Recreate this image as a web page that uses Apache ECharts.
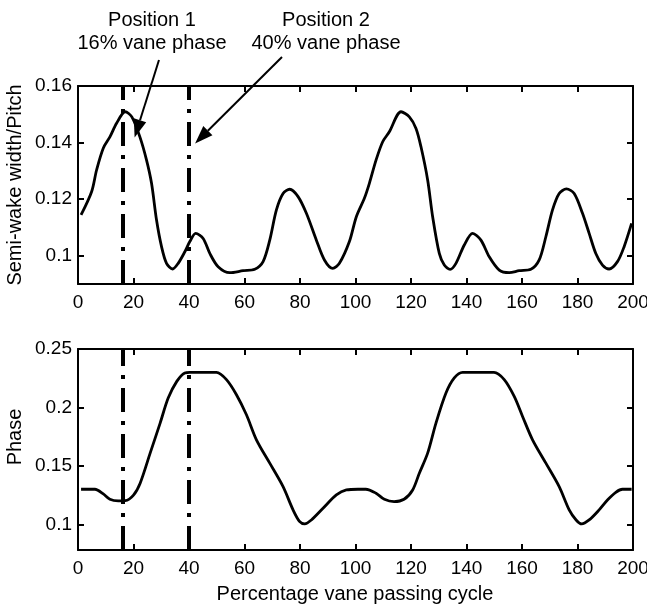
<!DOCTYPE html>
<html>
<head>
<meta charset="utf-8">
<script src="https://cdn.jsdelivr.net/npm/echarts@6/dist/echarts.min.js"></script>
<style>
  html, body { margin: 0; padding: 0; background: #fff; }
  #chart { width: 647px; height: 605px; }
</style>
</head>
<body>
<div id="chart"></div>
<script>
// Semi-wake width (normalised by pitch) over two vane passing cycles
const wakeX = [1.1, 4.9, 6.7, 9.1, 11.5, 13.9, 17.0, 19.4, 22.3, 24.7, 26.5, 28.3, 30.1, 31.9, 34.1, 36.1,
  38.5, 40.3, 42.4, 45.1, 47.5, 50.5, 54.7, 59.5, 63.7, 66.7, 69.1, 71.5, 73.9, 76.3, 79.3, 82.3, 85.9,
  88.8, 91.8, 94.2, 97.8, 100.3, 103.2, 105.0, 107.4, 109.8, 112.2, 116.4, 119.4, 121.8, 123.6, 126.0,
  127.8, 130.2, 132.0, 134.1, 136.2, 139.2, 142.2, 145.2, 148.2, 151.8, 155.4, 159.0, 163.2, 166.2,
  168.6, 171.0, 173.4, 176.0, 178.8, 181.8, 184.2, 186.6, 189.0, 191.4, 194.4, 196.8, 199.5];
const wakeY = [0.1144, 0.1226, 0.1303, 0.1380, 0.1420, 0.1468, 0.1509, 0.1491, 0.1420, 0.1338, 0.1256,
  0.1126, 0.1032, 0.0973, 0.0953, 0.0973, 0.1014, 0.1050, 0.1079, 0.1061, 0.1008, 0.0961, 0.0940,
  0.0947, 0.0952, 0.0979, 0.1055, 0.1162, 0.1220, 0.1235, 0.1209, 0.1150, 0.1055, 0.0985, 0.0955,
  0.0973, 0.1050, 0.1138, 0.1203, 0.1256, 0.1338, 0.1403, 0.1438, 0.1509, 0.1491, 0.1450, 0.1385,
  0.1268, 0.1138, 0.1008, 0.0967, 0.0952, 0.0973, 0.1038, 0.1079, 0.1055, 0.0996, 0.0949, 0.0940,
  0.0947, 0.0952, 0.0985, 0.1067, 0.1162, 0.1220, 0.1236, 0.1220, 0.1150, 0.1079, 0.1008, 0.0967,
  0.0953, 0.0979, 0.1032, 0.1114];

// Phase over the same cycles
const phaseX = [1.1, 6.1, 9.1, 11.5, 14.5, 17.0, 20.0, 22.4, 26.0, 29.6, 32.5, 35.6, 38.5, 40.3, 49.9,
  53.5, 57.1, 60.7, 64.3, 69.1, 73.9, 77.5, 79.9, 81.7, 84.1, 88.3, 93.1, 96.7, 100.9, 103.7, 107.4,
  110.4, 113.9, 117.5, 120.6, 123.0, 126.0, 129.0, 132.6, 135.6, 138.6, 149.9, 153.6, 157.2, 160.2,
  163.8, 168.6, 173.4, 177.0, 179.5, 181.5, 184.2, 187.8, 190.8, 193.8, 196.2, 199.5];
const phaseY = [0.130, 0.130, 0.126, 0.1214, 0.120, 0.1202, 0.125, 0.1352, 0.1609, 0.1866, 0.208,
  0.2223, 0.2295, 0.230, 0.230, 0.2238, 0.2109, 0.1937, 0.1723, 0.1523, 0.1322, 0.1123, 0.1022,
  0.1003, 0.1037, 0.1137, 0.1251, 0.1294, 0.130, 0.130, 0.1266, 0.1214, 0.1194, 0.1214, 0.1294,
  0.1437, 0.1609, 0.1866, 0.2123, 0.2252, 0.230, 0.230, 0.2238, 0.2094, 0.1923, 0.1723, 0.1523,
  0.1322, 0.1123, 0.1037, 0.1003, 0.1037, 0.1123, 0.1208, 0.1274, 0.130, 0.130];

// Measurement positions (percentage of vane passing cycle)
const positions = [16, 40];
const positionLabels = ['Position 1\n16% vane phase', 'Position 2\n40% vane phase'];

// Tick values
const wakeTicks = [0.1, 0.12, 0.14, 0.16];
const phaseTicks = [0.1, 0.15, 0.2, 0.25];

const FONT = "'Liberation Sans', Arial, Helvetica, sans-serif";
const BLACK = '#000';

function pairs(xs, ys) { return xs.map((x, i) => [x, ys[i]]); }
function fmt(v) { return String(+Number(v).toFixed(3)); }

function axisLine() {
  return { show: true, onZero: false, lineStyle: { color: BLACK, width: 2 } };
}

function xAxisPair(gridIndex) {
  const make = (position, showLabel) => ({
    type: 'value', gridIndex, position, min: 0, max: 200, interval: 20,
    axisLine: axisLine(),
    axisTick: { show: true, inside: true, length: 6, lineStyle: { color: BLACK, width: 2 } },
    axisLabel: showLabel
      ? { show: true, color: BLACK, fontSize: 19, fontFamily: FONT, margin: 9 }
      : { show: false },
    splitLine: { show: false }
  });
  return [make('bottom', true), make('top', false)];
}

function yAxisPair(gridIndex, min, max, ticks) {
  const make = (position, showLabel) => ({
    type: 'value', gridIndex, position, min, max,
    axisLine: axisLine(),
    axisTick: { show: true, inside: true, length: 6, customValues: ticks, lineStyle: { color: BLACK, width: 2 } },
    axisLabel: showLabel
      ? { show: true, color: BLACK, fontSize: 19, fontFamily: FONT, margin: 6, customValues: ticks, formatter: fmt }
      : { show: false },
    splitLine: { show: false }
  });
  return [make('left', true), make('right', false)];
}

function positionLines() {
  return {
    silent: true,
    symbol: ['none', 'none'],
    label: { show: false },
    lineStyle: { color: BLACK, width: 4, type: [24, 9, 4, 9] },
    data: positions.map(v => ({ xAxis: v }))
  };
}

const chart = echarts.init(document.getElementById('chart'), null, { renderer: 'canvas' });

const option = {
  animation: false,
  backgroundColor: '#fff',
  grid: [
    { left: 78, top: 86, width: 555, height: 198, containLabel: false, outerBoundsMode: 'none' },
    { left: 78, top: 349, width: 555, height: 201, containLabel: false, outerBoundsMode: 'none' }
  ],
  xAxis: [...xAxisPair(0), ...xAxisPair(1)],
  yAxis: [...yAxisPair(0, 0.09, 0.16, wakeTicks), ...yAxisPair(1, 0.078, 0.25, phaseTicks)],
  series: [
    {
      name: 'Semi-wake width/Pitch', type: 'line', xAxisIndex: 0, yAxisIndex: 0,
      data: pairs(wakeX, wakeY), showSymbol: false, smooth: 0.3,
      lineStyle: { color: BLACK, width: 2.8 },
      markLine: positionLines()
    },
    {
      name: 'Phase', type: 'line', xAxisIndex: 2, yAxisIndex: 2,
      data: pairs(phaseX, phaseY), showSymbol: false, smooth: 0.3,
      lineStyle: { color: BLACK, width: 2.8 },
      markLine: positionLines()
    }
  ]
};
chart.setOption(option);

// Titles and annotation arrows
const textStyle = (text, x, y) => ({
  text, x, y, font: '20px ' + FONT, fill: BLACK, align: 'center', verticalAlign: 'middle', lineHeight: 23
});

// Arrow tails sit under the annotation text; heads point into the upper plot
const arrowTails = [[159, 60], [282, 57]];
const arrowTips = [[20.4, 0.1418], [42.2, 0.1397]];

function arrow(tail, tipData) {
  const tip = chart.convertToPixel({ xAxisIndex: 0, yAxisIndex: 0 }, tipData);
  const dx = tip[0] - tail[0], dy = tip[1] - tail[1];
  const len = Math.hypot(dx, dy);
  const ux = dx / len, uy = dy / len;
  const headLen = 18, headHalf = 6.5;
  const bx = tip[0] - ux * headLen, by = tip[1] - uy * headLen;
  return [
    { type: 'line', silent: true,
      shape: { x1: tail[0], y1: tail[1], x2: bx, y2: by },
      style: { stroke: BLACK, lineWidth: 2 } },
    { type: 'polygon', silent: true,
      shape: { points: [tip, [bx - uy * headHalf, by + ux * headHalf], [bx + uy * headHalf, by - ux * headHalf]] },
      style: { fill: BLACK } }
  ];
}

chart.setOption({
  graphic: [
    { type: 'text', silent: true, style: textStyle(positionLabels[0], 152, 32) },
    { type: 'text', silent: true, style: textStyle(positionLabels[1], 326, 32) },
    { type: 'text', silent: true, x: 15, y: 185, rotation: Math.PI / 2,
      style: textStyle('Semi-wake width/Pitch', 0, 0) },
    { type: 'text', silent: true, x: 15, y: 437, rotation: Math.PI / 2,
      style: textStyle('Phase', 0, 0) },
    { type: 'text', silent: true, style: textStyle('Percentage vane passing cycle', 355, 594) },
    ...arrow(arrowTails[0], arrowTips[0]),
    ...arrow(arrowTails[1], arrowTips[1])
  ]
});
</script>
</body>
</html>
